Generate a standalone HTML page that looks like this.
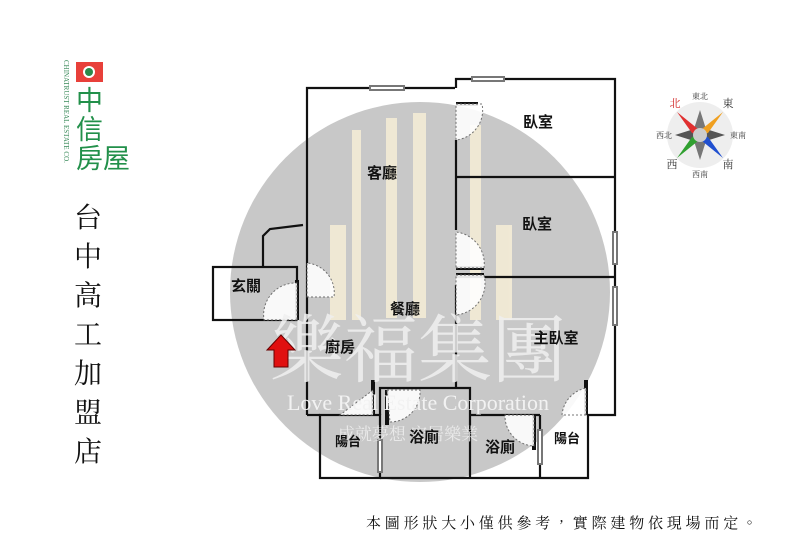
<!DOCTYPE html>
<html><head><meta charset="utf-8"><style>
html,body{margin:0;padding:0;background:#fff;width:800px;height:553px;overflow:hidden}
svg{display:block}
.r{font-family:"Liberation Sans","Noto Sans CJK TC",sans-serif;font-size:15px;font-weight:bold;fill:#111}
</style></head><body>
<svg width="800" height="553" viewBox="0 0 800 553" xmlns="http://www.w3.org/2000/svg">
<circle cx="420" cy="292" r="190" fill="#c8c8c8"/>
<g fill="#f4ecd6" opacity="0.9">
<rect x="352" y="130" width="9" height="190"/><rect x="386" y="118" width="11" height="200"/>
<rect x="413" y="113" width="13" height="205"/><rect x="470" y="125" width="11" height="195"/>
<rect x="330" y="225" width="16" height="95"/><rect x="496" y="225" width="16" height="95"/>
</g>
<g stroke="#111" stroke-width="2.2" fill="none">
<polyline points="307,415 307,88 455,88"/>
<polyline points="456,88 456,79 615,79 615,415 588,415"/>
<line x1="456" y1="177" x2="615" y2="177"/>
<line x1="456" y1="277" x2="615" y2="277"/>
<line x1="456" y1="140" x2="456" y2="230"/>
<line x1="456" y1="285" x2="456" y2="387"/>
<rect x="320" y="415" width="60" height="63"/>
<polyline points="380,478 588,478 588,415"/>
<polyline points="380,415 380,388 470,388 470,478"/>
<line x1="470" y1="415" x2="540" y2="415"/>
<line x1="540" y1="415" x2="540" y2="478"/>
<line x1="307" y1="415" x2="320" y2="415"/>
<rect x="213" y="267" width="84" height="53"/>
<polyline points="263,267 263,236 270,229 303,225"/>
</g>
<g stroke="#111" stroke-width="4">
<line x1="456" y1="104" x2="478" y2="104"/><line x1="456" y1="268" x2="484" y2="268"/>
<line x1="456" y1="275" x2="484" y2="275"/><line x1="297" y1="280" x2="297" y2="320"/>
<line x1="373" y1="380" x2="373" y2="415"/><line x1="387" y1="390" x2="387" y2="425"/>
<line x1="534" y1="415" x2="534" y2="450"/><line x1="586" y1="380" x2="586" y2="415"/>
</g>
<g stroke="#777" stroke-width="2" fill="#fff">
<rect x="370" y="86" width="34" height="4"/><rect x="472" y="77" width="32" height="4"/>
<rect x="613" y="232" width="4" height="32"/><rect x="613" y="287" width="4" height="38"/>
<rect x="378" y="440" width="4" height="32"/><rect x="538" y="430" width="4" height="34"/>
</g>
<g stroke="#666" stroke-width="1" stroke-dasharray="2,2" fill="#fff" opacity="0.9">
<path d="M456,104 L482,104 A30,30 0 0 1 456,140 Z"/>
<path d="M456,268 L484,268 A32,32 0 0 0 456,232 Z" />
<path d="M456,275 L484,275 A32,32 0 0 1 456,315 Z"/>
<path d="M307,297 L334,297 A30,30 0 0 0 307,263 Z"/>
<path d="M297,320 L264,320 A32,32 0 0 1 297,283 Z"/>
<path d="M373,390 L340,415 L373,415 Z"/>
<path d="M586,415 L562,415 A30,30 0 0 1 586,388 Z"/>
<path d="M534,415 L505,415 A30,30 0 0 0 534,446 Z"/>
<path d="M387,390 L420,390 A30,30 0 0 1 390,422 Z"/>
</g>
<text x="418" y="376" text-anchor="middle" font-family="Liberation Serif,'Noto Serif CJK SC',serif" font-size="74" fill="#f0f0f0" opacity="0.85">樂福集團</text>
<text x="418" y="410" text-anchor="middle" font-family="Liberation Serif,serif" font-size="22" fill="#f2f2f2">Love Real Estate Corporation</text>
<text x="408" y="440" text-anchor="middle" font-family="Liberation Serif,'Noto Serif CJK SC',serif" font-size="17" fill="#f2f2f2" opacity="0.8">成就夢想 安居樂業</text>
<g class="r">
<text x="382" y="178" text-anchor="middle" class="r">客廳</text>
<text x="538" y="127" text-anchor="middle" class="r">臥室</text>
<text x="537" y="229" text-anchor="middle" class="r">臥室</text>
<text x="246" y="291" text-anchor="middle" class="r">玄關</text>
<text x="405" y="314" text-anchor="middle" class="r">餐廳</text>
<text x="340" y="352" text-anchor="middle" class="r">廚房</text>
<text x="556" y="343" text-anchor="middle" class="r">主臥室</text>
<text x="348" y="446" text-anchor="middle" class="r" style="font-size:13px">陽台</text>
<text x="424" y="442" text-anchor="middle" class="r">浴廁</text>
<text x="500" y="452" text-anchor="middle" class="r">浴廁</text>
<text x="567" y="443" text-anchor="middle" class="r" style="font-size:13px">陽台</text>
</g>
<polygon points="281,335 295,350 288,350 288,367 274,367 274,350 267,350" fill="#e01010" stroke="#600" stroke-width="1"/>
<rect x="76" y="62" width="27" height="20" fill="#e8403a"/>
<circle cx="89" cy="72" r="6" fill="#fff"/><circle cx="89" cy="72" r="4" fill="#2a8a4a"/>
<text x="64" y="60" font-family="Liberation Serif,serif" font-size="7" fill="#3a8a5a" transform="rotate(90 64 60)">CHINATRUST REAL ESTATE CO.</text>
<g font-family="Liberation Sans,'Noto Sans CJK TC',sans-serif" fill="#22904a">
<text x="76" y="110" font-size="27">中</text>
<text x="76" y="139" font-size="27">信</text>
<text x="76" y="168" font-size="27">房屋</text>
</g>
<g font-family="Liberation Serif,'Noto Serif CJK SC',serif" font-size="28" fill="#111" text-anchor="middle">
<text x="88" y="227">台</text><text x="88" y="266">中</text><text x="88" y="305">高</text>
<text x="88" y="344">工</text><text x="88" y="383">加</text><text x="88" y="422">盟</text><text x="88" y="461">店</text>
</g>
<circle cx="700" cy="135" r="33" fill="#eee"/>
<polygon points="700,110 706,129 700,135 694,129" fill="#777"/>
<polygon points="700,160 706,141 700,135 694,141" fill="#777"/>
<polygon points="675,135 694,129 700,135 694,141" fill="#555"/>
<polygon points="725,135 706,129 700,135 706,141" fill="#555"/>
<polygon points="677,112 698,129 700,135 692,133" fill="#e03030"/>
<polygon points="723,112 702,129 700,135 708,133" fill="#f0a020"/>
<polygon points="677,158 698,141 700,135 692,137" fill="#30a030"/>
<polygon points="723,158 702,141 700,135 708,137" fill="#2050d0"/>
<circle cx="700" cy="135" r="7" fill="#ccc"/>
<g font-family="Liberation Serif,'Noto Serif CJK SC',serif" font-size="8" fill="#333" text-anchor="middle">
<text x="700" y="99">東北</text><text x="700" y="177">西南</text>
<text x="675" y="107" fill="#d02020" font-size="11">北</text><text x="728" y="107" font-size="11">東</text>
<text x="672" y="168" font-size="11">西</text><text x="728" y="168" font-size="11">南</text>
<text x="664" y="138">西北</text><text x="738" y="138">東南</text>
</g>
<text x="366" y="528" font-family="Liberation Serif,'Noto Serif CJK TC',serif" font-size="15" letter-spacing="3.8" fill="#111">本圖形狀大小僅供參考，實際建物依現場而定。</text>
</svg>
</body></html>
